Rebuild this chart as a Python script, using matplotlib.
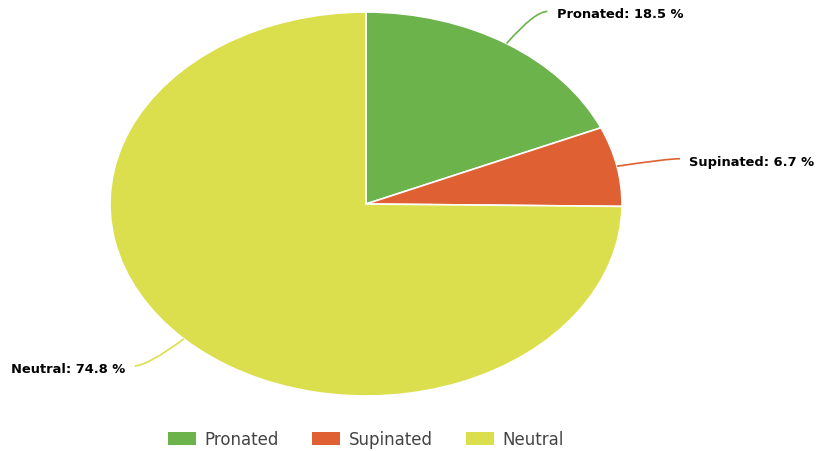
import numpy as np
import matplotlib
matplotlib.use("Agg")
import matplotlib.pyplot as plt
from matplotlib.patches import Rectangle, PathPatch
from matplotlib.path import Path

plt.rcParams['font.family'] = ['DejaVu Sans']

categories = ['Pronated', 'Supinated', 'Neutral']
shares = [18.5, 6.7, 74.8]
colors = ['#6DB34B', '#DE6033', '#DCDF4D']

fig = plt.figure(figsize=(8.17, 4.52), dpi=100)
ax = fig.add_axes([0, 0, 1, 1])

wedges, _ = ax.pie(shares, colors=colors, startangle=90, counterclock=False,
                   radius=1.0, wedgeprops=dict(edgecolor='white', linewidth=1.2))

# stretched ellipse: 256 px wide radius, 192 px tall radius, centre at (366, 205)
ax.set_aspect('auto')
ax.set_xlim(-366 / 256, (817 - 366) / 256)
ax.set_ylim(-(452 - 205) / 192, 205 / 192)
ax.axis('off')

# data labels with curved connectors
for w, name, val, col in zip(wedges, categories, shares, colors):
    mid = np.deg2rad((w.theta1 + w.theta2) / 2)
    cx, cy = np.cos(mid), np.sin(mid)
    start = (cx * 1.0, cy * 1.0)
    ctrl = (cx * 1.2, cy * 1.2)
    side = 1 if cx >= 0 else -1
    end = (ctrl[0] + side * 0.05, ctrl[1])
    path = Path([start, ctrl, end], [Path.MOVETO, Path.CURVE3, Path.CURVE3])
    ax.add_patch(PathPatch(path, facecolor='none', edgecolor=col, lw=1.2))
    ax.text(end[0] + side * 0.037, end[1] - 0.012, f'{name}: {val} %',
            ha='left' if side > 0 else 'right', va='center',
            fontsize=9.4, fontweight='bold', color='black')

handles = [Rectangle((0, 0), 1, 1, facecolor=c, edgecolor='none') for c in colors]
fig.legend(handles, categories, loc='center', bbox_to_anchor=(366 / 817, 1 - 440 / 452),
           ncol=3, frameon=False, fontsize=12, handlelength=1.7, handleheight=0.8,
           handletextpad=0.5, columnspacing=2.0, labelcolor='#444444')

fig.savefig('out.png', dpi=100)
